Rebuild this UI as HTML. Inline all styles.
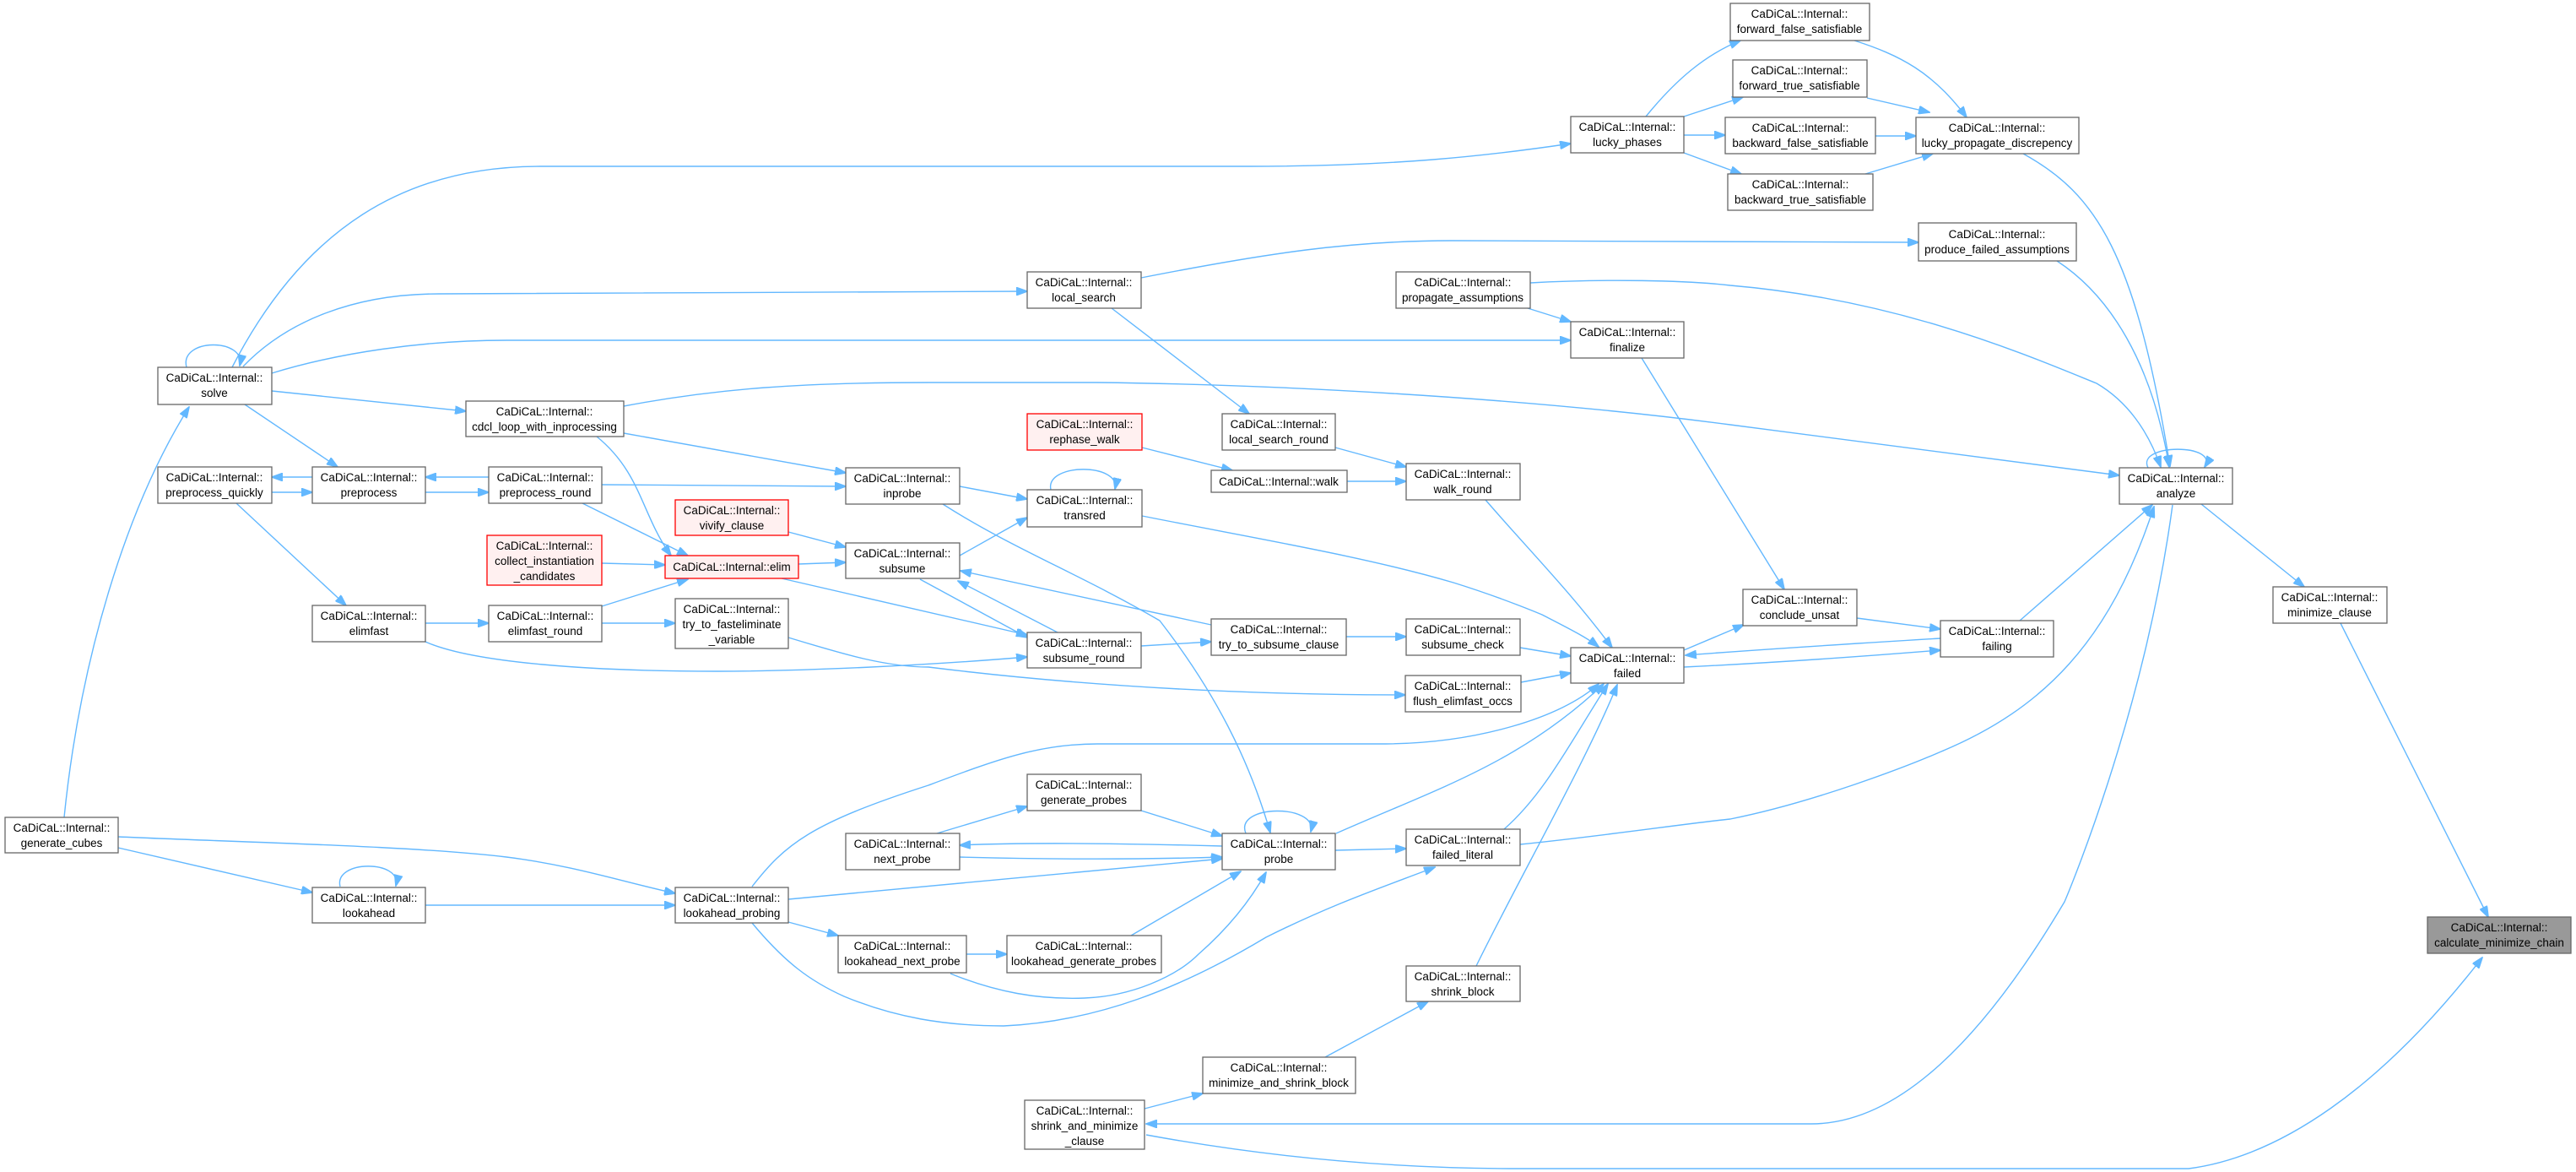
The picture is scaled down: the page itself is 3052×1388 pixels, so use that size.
<!DOCTYPE html>
<html><head><meta charset="utf-8"><style>
html,body{margin:0;padding:0;background:#fff;}
svg{display:block;}
text{font-family:"Liberation Sans",Arial,sans-serif;font-size:13.5px;fill:#000;text-anchor:middle;}
.n{fill:#fff;stroke:#666;stroke-width:1.3;}
.r{fill:#fff0f0;stroke:#ff0000;stroke-width:1.3;}
.g{fill:#999;stroke:#666;stroke-width:1.3;}
path{fill:none;stroke:#63b8ff;stroke-width:1.4;}
</style></head><body>
<svg width="3052" height="1388" viewBox="0 0 3052 1388" xmlns="http://www.w3.org/2000/svg">
<defs><marker id="a" markerWidth="14" markerHeight="10" refX="13" refY="5" orient="auto" markerUnits="userSpaceOnUse"><polygon points="0,0 14,5 0,10" fill="#63b8ff" stroke="#63b8ff"/></marker></defs>
<g marker-end="url(#a)">
<path d="M221,435 C212,400 292,400 284,433"/>
<path d="M76,968 C95,780 150,600 224,482"/>
<path d="M275,435 C360,270 480,197 640,197 L1480,197 C1650,197 1760,185 1861,170"/>
<path d="M288,434 C340,380 420,348 520,348 L1217,345"/>
<path d="M322,442 C400,418 500,403 600,403 L1861,403"/>
<path d="M739,481 C850,460 950,453 1100,453 L1300,453 C1500,455 1800,470 2050,503 L2511,563"/>
<path d="M322,463 L552,487"/>
<path d="M290,479 L400,553"/>
<path d="M370,565 L322,565"/>
<path d="M322,583 L370,583"/>
<path d="M579,565 L504,565"/>
<path d="M504,583 L579,583"/>
<path d="M280,596 L410,717"/>
<path d="M739,513 L1002,560"/>
<path d="M713,574 L1002,576"/>
<path d="M707,517 C760,560 760,610 795,658"/>
<path d="M690,596 L815,658"/>
<path d="M713,667 L788,669"/>
<path d="M934,630 L1002,648"/>
<path d="M946,668 L1002,666"/>
<path d="M713,718 L815,686"/>
<path d="M504,738 L579,738"/>
<path d="M713,738 L800,738"/>
<path d="M504,760 C560,785 700,795 850,795 C950,795 1100,788 1217,778"/>
<path d="M926,685 L1217,752"/>
<path d="M934,755 C1000,775 1050,790 1100,790 C1300,815 1500,823 1665,823"/>
<path d="M1137,576 L1217,591"/>
<path d="M1137,658 L1217,613"/>
<path d="M1245,580 C1238,548 1328,548 1321,579"/>
<path d="M1117,597 C1200,650 1280,680 1374,735 C1440,820 1480,900 1505,986"/>
<path d="M1435,740 L1138,676"/>
<path d="M1253,749 L1135,688"/>
<path d="M1090,686 L1217,755"/>
<path d="M1352,765 L1435,760"/>
<path d="M1595,754 L1666,754"/>
<path d="M1801,767 L1861,777"/>
<path d="M1802,808 L1861,797"/>
<path d="M1317,365 L1480,490"/>
<path d="M1352,329 C1500,300 1600,285 1720,285 L2273,287"/>
<path d="M1813,335 C1900,330 2000,332 2050,338 C2250,355 2400,420 2484,454 C2520,475 2545,510 2560,553"/>
<path d="M1810,365 L1861,381"/>
<path d="M1945,424 L2114,698"/>
<path d="M1353,530 L1460,557"/>
<path d="M1582,530 L1666,553"/>
<path d="M1596,570 L1666,570"/>
<path d="M1760,592 C1810,650 1860,700 1910,767"/>
<path d="M1353,611 C1500,640 1620,660 1722,690 C1780,708 1827,728 1827,728 C1860,745 1880,755 1894,766"/>
<path d="M1995,770 L2066,740"/>
<path d="M2299,756 C2200,762 2100,768 1997,776"/>
<path d="M1995,790 C2100,785 2200,778 2299,770"/>
<path d="M2200,732 L2299,745"/>
<path d="M2393,735 L2550,598"/>
<path d="M891,1050 C930,1000 960,975 1100,930 C1180,900 1230,881 1300,881 L1642,881 C1750,880 1850,850 1894,810"/>
<path d="M1583,987 C1700,935 1801,904 1900,810"/>
<path d="M1782,982 C1830,940 1860,880 1905,810"/>
<path d="M1749,1144 C1800,1040 1880,900 1916,811"/>
<path d="M2545,554 C2530,525 2630,525 2612,553"/>
<path d="M2397,182 C2484,230 2530,300 2571,552"/>
<path d="M2437,309 C2500,350 2550,430 2570,553"/>
<path d="M1801,1000 C1900,990 2000,975 2050,970 C2150,950 2261,907 2300,890 C2420,840 2500,760 2552,600"/>
<path d="M2574,598 C2540,850 2446,1068 2446,1068 C2350,1230 2250,1331 2146,1331 L1358,1331"/>
<path d="M1358,1344 C1500,1370 1650,1384 1800,1384 L2593,1384 C2700,1370 2820,1290 2941,1134"/>
<path d="M2608,597 L2730,695"/>
<path d="M2773,738 L2948,1086"/>
<path d="M1356,1313 L1425,1295"/>
<path d="M1570,1252 L1692,1186"/>
<path d="M140,991 C300,998 491,1002 600,1015 C680,1025 740,1045 800,1058"/>
<path d="M140,1004 L370,1057"/>
<path d="M403,1050 C395,1018 477,1018 469,1049"/>
<path d="M504,1072 L800,1072"/>
<path d="M934,1065 L1448,1017"/>
<path d="M934,1092 L993,1108"/>
<path d="M891,1093 C930,1140 960,1162 1000,1180 C1060,1205 1120,1215 1189,1215 C1300,1210 1400,1170 1500,1110 C1580,1070 1640,1050 1700,1027"/>
<path d="M1110,987 L1217,955"/>
<path d="M1352,960 L1448,990"/>
<path d="M1448,1002 C1300,998 1200,998 1137,1001"/>
<path d="M1137,1015 C1250,1018 1350,1018 1448,1015"/>
<path d="M1476,987 C1462,952 1562,952 1553,985"/>
<path d="M1582,1007 L1666,1005"/>
<path d="M1145,1130 L1193,1130"/>
<path d="M1340,1108 L1470,1032"/>
<path d="M1126,1153 C1180,1175 1230,1184 1285,1182 C1340,1180 1393,1157 1420,1130 C1460,1095 1485,1060 1500,1033"/>
<path d="M1950,138 C1985,95 2020,65 2062,48"/>
<path d="M1995,138 L2065,115"/>
<path d="M1995,160 L2044,160"/>
<path d="M1995,181 L2063,206"/>
<path d="M2197,48 C2250,65 2290,85 2330,139"/>
<path d="M2212,116 L2286,133"/>
<path d="M2222,161 L2270,161"/>
<path d="M2210,206 L2290,182"/>
</g>
<g>
<rect class="n" x="187" y="435" width="135" height="44"/><text x="254" y="452">CaDiCaL::Internal::</text><text x="254" y="470">solve</text>
<rect class="n" x="552" y="475" width="187" height="42"/><text x="645" y="492">CaDiCaL::Internal::</text><text x="645" y="510">cdcl_loop_with_inprocessing</text>
<rect class="n" x="187" y="553" width="135" height="43"/><text x="254" y="570">CaDiCaL::Internal::</text><text x="254" y="588">preprocess_quickly</text>
<rect class="n" x="370" y="553" width="134" height="43"/><text x="437" y="570">CaDiCaL::Internal::</text><text x="437" y="588">preprocess</text>
<rect class="n" x="579" y="553" width="134" height="43"/><text x="646" y="570">CaDiCaL::Internal::</text><text x="646" y="588">preprocess_round</text>
<rect class="n" x="1002" y="554" width="135" height="43"/><text x="1069" y="571">CaDiCaL::Internal::</text><text x="1069" y="589">inprobe</text>
<rect class="r" x="800" y="592" width="134" height="42"/><text x="867" y="609">CaDiCaL::Internal::</text><text x="867" y="627">vivify_clause</text>
<rect class="r" x="577" y="634" width="136" height="59"/><text x="645" y="651">CaDiCaL::Internal::</text><text x="645" y="669">collect_instantiation</text><text x="645" y="687">_candidates</text>
<rect class="r" x="788" y="658" width="158" height="27"/><text x="867" y="676">CaDiCaL::Internal::elim</text>
<rect class="n" x="1002" y="643" width="135" height="42"/><text x="1069" y="660">CaDiCaL::Internal::</text><text x="1069" y="678">subsume</text>
<rect class="n" x="370" y="717" width="134" height="43"/><text x="437" y="734">CaDiCaL::Internal::</text><text x="437" y="752">elimfast</text>
<rect class="n" x="579" y="717" width="134" height="43"/><text x="646" y="734">CaDiCaL::Internal::</text><text x="646" y="752">elimfast_round</text>
<rect class="n" x="800" y="709" width="134" height="59"/><text x="867" y="726">CaDiCaL::Internal::</text><text x="867" y="744">try_to_fasteliminate</text><text x="867" y="762">_variable</text>
<rect class="n" x="6" y="968" width="134" height="42"/><text x="73" y="985">CaDiCaL::Internal::</text><text x="73" y="1003">generate_cubes</text>
<rect class="n" x="370" y="1051" width="134" height="42"/><text x="437" y="1068">CaDiCaL::Internal::</text><text x="437" y="1086">lookahead</text>
<rect class="n" x="800" y="1051" width="134" height="42"/><text x="867" y="1068">CaDiCaL::Internal::</text><text x="867" y="1086">lookahead_probing</text>
<rect class="n" x="1002" y="987" width="135" height="43"/><text x="1069" y="1004">CaDiCaL::Internal::</text><text x="1069" y="1022">next_probe</text>
<rect class="n" x="993" y="1108" width="152" height="44"/><text x="1069" y="1125">CaDiCaL::Internal::</text><text x="1069" y="1143">lookahead_next_probe</text>
<rect class="n" x="1861" y="138" width="134" height="43"/><text x="1928" y="155">CaDiCaL::Internal::</text><text x="1928" y="173">lucky_phases</text>
<rect class="n" x="1217" y="322" width="135" height="43"/><text x="1284" y="339">CaDiCaL::Internal::</text><text x="1284" y="357">local_search</text>
<rect class="n" x="1654" y="322" width="159" height="43"/><text x="1733" y="339">CaDiCaL::Internal::</text><text x="1733" y="357">propagate_assumptions</text>
<rect class="n" x="1861" y="381" width="134" height="43"/><text x="1928" y="398">CaDiCaL::Internal::</text><text x="1928" y="416">finalize</text>
<rect class="r" x="1217" y="490" width="136" height="43"/><text x="1285" y="507">CaDiCaL::Internal::</text><text x="1285" y="525">rephase_walk</text>
<rect class="n" x="1448" y="490" width="134" height="43"/><text x="1515" y="507">CaDiCaL::Internal::</text><text x="1515" y="525">local_search_round</text>
<rect class="n" x="1435" y="557" width="161" height="26"/><text x="1515" y="575">CaDiCaL::Internal::walk</text>
<rect class="n" x="1666" y="549" width="135" height="43"/><text x="1733" y="566">CaDiCaL::Internal::</text><text x="1733" y="584">walk_round</text>
<rect class="n" x="1217" y="580" width="136" height="44"/><text x="1285" y="597">CaDiCaL::Internal::</text><text x="1285" y="615">transred</text>
<rect class="n" x="1217" y="749" width="135" height="42"/><text x="1284" y="766">CaDiCaL::Internal::</text><text x="1284" y="784">subsume_round</text>
<rect class="n" x="1435" y="733" width="160" height="43"/><text x="1515" y="750">CaDiCaL::Internal::</text><text x="1515" y="768">try_to_subsume_clause</text>
<rect class="n" x="1666" y="733" width="135" height="43"/><text x="1733" y="750">CaDiCaL::Internal::</text><text x="1733" y="768">subsume_check</text>
<rect class="n" x="1665" y="800" width="137" height="43"/><text x="1733" y="817">CaDiCaL::Internal::</text><text x="1733" y="835">flush_elimfast_occs</text>
<rect class="n" x="1861" y="767" width="134" height="42"/><text x="1928" y="784">CaDiCaL::Internal::</text><text x="1928" y="802">failed</text>
<rect class="n" x="1217" y="917" width="135" height="43"/><text x="1284" y="934">CaDiCaL::Internal::</text><text x="1284" y="952">generate_probes</text>
<rect class="n" x="1448" y="987" width="134" height="43"/><text x="1515" y="1004">CaDiCaL::Internal::</text><text x="1515" y="1022">probe</text>
<rect class="n" x="1666" y="982" width="135" height="43"/><text x="1733" y="999">CaDiCaL::Internal::</text><text x="1733" y="1017">failed_literal</text>
<rect class="n" x="1193" y="1108" width="183" height="44"/><text x="1284" y="1125">CaDiCaL::Internal::</text><text x="1284" y="1143">lookahead_generate_probes</text>
<rect class="n" x="1666" y="1144" width="135" height="42"/><text x="1733" y="1161">CaDiCaL::Internal::</text><text x="1733" y="1179">shrink_block</text>
<rect class="n" x="1425" y="1252" width="181" height="43"/><text x="1515" y="1269">CaDiCaL::Internal::</text><text x="1515" y="1287">minimize_and_shrink_block</text>
<rect class="n" x="1214" y="1303" width="142" height="58"/><text x="1285" y="1320">CaDiCaL::Internal::</text><text x="1285" y="1338">shrink_and_minimize</text><text x="1285" y="1356">_clause</text>
<rect class="n" x="2050" y="4" width="165" height="44"/><text x="2132" y="21">CaDiCaL::Internal::</text><text x="2132" y="39">forward_false_satisfiable</text>
<rect class="n" x="2053" y="71" width="159" height="44"/><text x="2132" y="88">CaDiCaL::Internal::</text><text x="2132" y="106">forward_true_satisfiable</text>
<rect class="n" x="2044" y="139" width="178" height="43"/><text x="2133" y="156">CaDiCaL::Internal::</text><text x="2133" y="174">backward_false_satisfiable</text>
<rect class="n" x="2047" y="206" width="172" height="43"/><text x="2133" y="223">CaDiCaL::Internal::</text><text x="2133" y="241">backward_true_satisfiable</text>
<rect class="n" x="2270" y="139" width="193" height="43"/><text x="2366" y="156">CaDiCaL::Internal::</text><text x="2366" y="174">lucky_propagate_discrepency</text>
<rect class="n" x="2273" y="264" width="187" height="45"/><text x="2366" y="282">CaDiCaL::Internal::</text><text x="2366" y="300">produce_failed_assumptions</text>
<rect class="n" x="2511" y="554" width="134" height="43"/><text x="2578" y="571">CaDiCaL::Internal::</text><text x="2578" y="589">analyze</text>
<rect class="n" x="2065" y="698" width="135" height="43"/><text x="2132" y="715">CaDiCaL::Internal::</text><text x="2132" y="733">conclude_unsat</text>
<rect class="n" x="2299" y="735" width="134" height="43"/><text x="2366" y="752">CaDiCaL::Internal::</text><text x="2366" y="770">failing</text>
<rect class="n" x="2693" y="695" width="135" height="43"/><text x="2760" y="712">CaDiCaL::Internal::</text><text x="2760" y="730">minimize_clause</text>
<rect class="g" x="2876" y="1086" width="170" height="43"/><text x="2961" y="1103">CaDiCaL::Internal::</text><text x="2961" y="1121">calculate_minimize_chain</text>
</g>
</svg>
</body></html>
